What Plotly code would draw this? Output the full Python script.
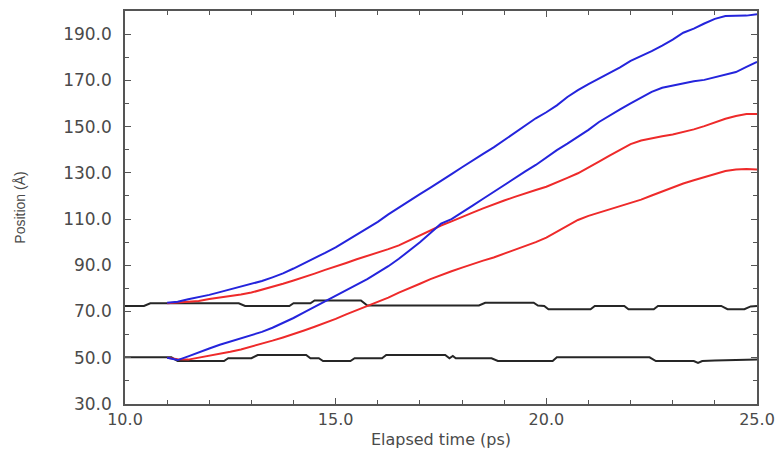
import plotly.graph_objects as go

# ---------------- data ----------------
T = [11.0, 11.25, 11.5, 11.75, 12.0, 12.25, 12.5, 12.75, 13.0, 13.25, 13.5, 13.75,
     14.0, 14.25, 14.5, 14.75, 15.0, 15.25, 15.5, 15.75, 16.0, 16.25, 16.5, 16.75,
     17.0, 17.25, 17.5, 17.75, 18.0, 18.25, 18.5, 18.75, 19.0, 19.25, 19.5, 19.75,
     20.0, 20.25, 20.5, 20.75, 21.0, 21.25, 21.5, 21.75, 22.0, 22.25, 22.5, 22.75,
     23.0, 23.25, 23.5, 23.75, 24.0, 24.25, 24.5, 24.75, 25.0]

blue_upper = [73.8, 74.2, 75.3, 76.2, 77.2, 78.4, 79.6, 80.6, 81.8, 83.2, 84.8, 86.5,
              88.6, 90.8, 93.0, 95.4, 97.8, 100.6, 103.2, 106.0, 108.8, 112.0, 115.0, 117.8,
              120.8, 123.6, 126.4, 129.4, 132.4, 135.4, 138.2, 141.0, 144.2, 147.4, 150.6, 153.6,
              156.2, 159.2, 162.8, 165.8, 168.4, 170.8, 173.0, 175.6, 178.4, 180.4, 182.6, 185.0,
              187.6, 190.6, 192.4, 194.6, 196.6, 197.8, 198.0, 198.0, 198.6]

blue_lower = [50.0, 49.0, 50.6, 52.4, 54.0, 55.6, 57.0, 58.2, 59.6, 61.2, 63.0, 65.0,
              67.2, 69.6, 72.0, 74.4, 76.8, 79.0, 81.4, 84.0, 86.8, 89.6, 92.8, 96.2,
              100.0, 104.0, 108.0, 110.0, 112.8, 115.8, 118.8, 121.8, 124.8, 127.8, 130.6, 133.4,
              136.6, 139.8, 142.6, 145.6, 148.6, 152.0, 154.8, 157.4, 160.0, 162.6, 165.0, 166.8,
              167.8, 168.6, 169.6, 170.2, 171.4, 172.6, 173.6, 175.8, 178.0]

red_upper = [73.6, 74.0, 74.2, 74.6, 75.4, 76.0, 76.6, 77.4, 78.2, 79.4, 80.8, 82.0,
             83.4, 84.8, 86.4, 88.0, 89.4, 91.0, 92.6, 94.0, 95.6, 97.0, 98.6, 100.8,
             103.0, 105.2, 107.2, 109.0, 111.0, 112.8, 114.6, 116.4, 118.0, 119.6, 121.2, 122.6,
             124.0, 125.8, 127.8, 129.8, 132.2, 134.8, 137.4, 140.0, 142.4, 144.0, 145.0, 145.8,
             146.6, 147.6, 148.8, 150.2, 151.8, 153.4, 154.6, 155.4, 155.4]

red_lower = [50.0, 49.4, 49.2, 50.0, 50.8, 51.6, 52.6, 53.6, 54.8, 56.0, 57.4, 58.8,
             60.2, 61.8, 63.4, 65.0, 66.8, 68.8, 70.6, 72.4, 74.0, 76.0, 78.2, 80.0,
             82.0, 84.0, 85.8, 87.4, 89.0, 90.6, 92.0, 93.4, 95.0, 96.6, 98.2, 100.0,
             102.0, 104.6, 107.2, 109.6, 111.4, 112.8, 114.2, 115.4, 116.8, 118.4, 120.2, 122.0,
             123.8, 125.4, 126.8, 128.2, 129.6, 130.8, 131.4, 131.6, 131.4]

black_top_t = [10.0, 10.45, 10.6, 12.7, 12.85, 13.9, 14.0, 14.4, 14.5, 15.6, 15.75, 18.4,
               18.55, 19.7, 19.8, 19.95, 20.05, 21.05, 21.15, 21.85, 21.95, 22.55, 22.65,
               24.15, 24.3, 24.7, 24.85, 25.0]
black_top_v = [72.4, 72.4, 73.6, 73.6, 72.4, 72.4, 73.6, 73.6, 74.8, 74.8, 72.6, 72.6,
               73.8, 73.8, 72.6, 72.4, 71.0, 71.0, 72.4, 72.4, 71.0, 71.0, 72.4,
               72.4, 71.0, 71.0, 72.2, 72.4]

black_bot_t = [10.0, 11.1, 11.25, 12.35, 12.45, 13.0, 13.15, 14.3, 14.4, 14.6, 14.7, 15.35,
               15.45, 16.1, 16.2, 17.6, 17.7, 17.78, 17.85, 18.1, 18.7, 18.85, 20.15, 20.25,
               22.45, 22.6, 23.5, 23.6, 23.7, 24.0, 25.0]
black_bot_v = [50.2, 50.2, 48.6, 48.6, 49.8, 49.8, 51.2, 51.2, 49.8, 49.8, 48.6, 48.6,
               49.8, 49.8, 51.2, 51.2, 49.8, 50.8, 49.8, 49.8, 49.8, 48.6, 48.6, 50.2,
               50.2, 48.6, 48.6, 47.8, 48.6, 48.8, 49.2]

x_ticks = [10, 15, 20, 25]
x_tick_text = ["10.0", "15.0", "20.0", "25.0"]
y_ticks = [30, 50, 70, 90, 110, 130, 150, 170, 190]
y_tick_text = ["30.0", "50.0", "70.0", "90.0", "110.0", "130.0", "150.0", "170.0", "190.0"]

# ---------------- figure ----------------
fig = go.Figure()
BLACK = "#262626"
RED = "#ee2a2a"
BLUE = "#2424dc"

fig.add_trace(go.Scatter(x=black_top_t, y=black_top_v, mode="lines",
                         line=dict(color=BLACK, width=2), showlegend=False))
fig.add_trace(go.Scatter(x=black_bot_t, y=black_bot_v, mode="lines",
                         line=dict(color=BLACK, width=2), showlegend=False))
fig.add_trace(go.Scatter(x=T, y=red_upper, mode="lines",
                         line=dict(color=RED, width=2), showlegend=False))
fig.add_trace(go.Scatter(x=T, y=red_lower, mode="lines",
                         line=dict(color=RED, width=2), showlegend=False))
fig.add_trace(go.Scatter(x=T, y=blue_upper, mode="lines",
                         line=dict(color=BLUE, width=2), showlegend=False))
fig.add_trace(go.Scatter(x=T, y=blue_lower, mode="lines",
                         line=dict(color=BLUE, width=2), showlegend=False))

AX = "#555555"
TXT = "#4a4a4a"
fig.update_layout(
    width=777, height=453,
    margin=dict(l=125, r=20, t=11, b=49, autoexpand=False),
    paper_bgcolor="white", plot_bgcolor="white",
    font=dict(family="DejaVu Sans", color=TXT),
    xaxis=dict(
        range=[10, 25], tickvals=x_ticks, ticktext=x_tick_text,
        ticks="inside", ticklen=6, tickwidth=1, tickcolor=AX,
        minor=dict(dtick=1, ticks="inside", ticklen=4, tickcolor=AX),
        showline=True, linecolor=AX, linewidth=1.5, mirror="ticks",
        showgrid=False, zeroline=False, automargin=False,
        tickfont=dict(size=16, family="DejaVu Sans", color=TXT),
        title=dict(text="Elapsed time (ps)", standoff=6,
                   font=dict(size=16, family="DejaVu Sans", color=TXT)),
    ),
    yaxis=dict(
        range=[30, 200], tickvals=y_ticks, ticktext=y_tick_text,
        ticks="inside", ticklen=6, tickwidth=1, tickcolor=AX,
        minor=dict(dtick=10, ticks="inside", ticklen=4, tickcolor=AX),
        showline=True, linecolor=AX, linewidth=1.5, mirror="ticks",
        showgrid=False, zeroline=False, automargin=False,
        tickfont=dict(size=17, family="DejaVu Sans", color=TXT),
        ticklabelstandoff=8,
        title=dict(text="Position (Å)", standoff=34,
                   font=dict(size=14, family="Liberation Sans", color=TXT)),
    ),
)

fig.write_html("out.html")
